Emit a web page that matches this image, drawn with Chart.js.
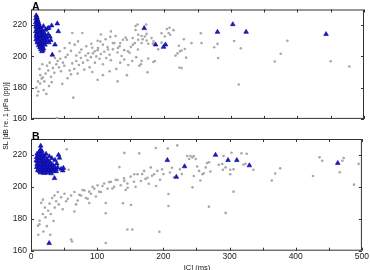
<!DOCTYPE html>
<html>
<head>
<meta charset="utf-8">
<script src="https://cdn.jsdelivr.net/npm/chart.js@4.4.1/dist/chart.umd.min.js"></script>
<style>
  body { margin: 0; background: #fff; width: 370px; height: 270px; overflow: hidden; position: relative;
         font-family: "Liberation Sans", Arial, sans-serif; }
  canvas { position: absolute; left: 0; }
  #cA { top: 0; }
  #cB { top: 128px; }
  .panel { position: absolute; font-weight: bold; font-size: 10.5px; line-height: 10px; color: #000; }
  #ylab { position: absolute; left: 5px; top: 116px; font-size: 7px; white-space: nowrap; color: #111;
          transform: translate(-50%, -50%) rotate(-90deg); }
  #xlab { position: absolute; left: 197px; top: 263px; font-size: 7.5px; color: #111; transform: translateX(-50%); }
</style>
</head>
<body>
<canvas id="cA" width="370" height="128"></canvas>
<canvas id="cB" width="370" height="142"></canvas>
<div class="panel" style="left:32px;top:1px">A</div>
<div class="panel" style="left:32px;top:131px">B</div>
<div id="ylab">SL [dB re. 1 μPa (pp)]</div>
<div id="xlab">ICI (ms)</div>
<script>
// axis ticks
const xTicks = [0, 50, 100, 150, 200, 250, 300, 350, 400, 450, 500];
const yTicks = [160, 180, 200, 220];

// panel A: [ICI ms, SL dB]
const grayA = [
  [9.6,175],[11,177.5],[8,180],[13.7,182.6],[10.5,184],[16,185.8],[12.7,192],[14,188],[18,186.5],[20,184],
  [22,189],[26,191],[24,194],[28,196],[17,195],[30,187],[33,192.5],[35,189.5],[38,195],[40,197],
  [36,199],[42,193],[45,190.5],[47,182.4],[44,198.5],[48,196],[50,194],[52,199.5],[27,181],[31,183.5],
  [19,178.5],[23,176],[39,160.5],[63.5,173.6],[55,186],[58,191],[60,188.5],[62,195.5],[65,192],[68,197],
  [70,189],[72,194.5],[75,199],[78,196],[80,191.5],[82,200.5],[85,197.5],[88,193],[90,199.5],[93,202],
  [96,196],[98,200],[100,204],[103,198.5],[105,201.5],[108,195],[110,203],[113,199],[115,206],[118,201],
  [120,197.5],[123,204.5],[125,208.5],[128,192],[130,202.5],[133,206.5],[136,200.2],[138,210.6],[140,204],[144,210.6],
  [148,202.3],[150,206],[43,203.3],[50.6,205.4],[58,208.5],[62,215],[65.6,207.5],[70.6,209.6],[75.6,204.4],[77,215],
  [83,206.5],[90.6,208.1],[95.6,203.3],[100.6,205.4],[108,207.5],[115.6,204.4],[123,208.5],[130.6,205.4],[145.6,203.3],[153,207.5],
  [160.6,204.4],[55,201],[60,203.5],[68,200.5],[73,202.5],[86,202],[92,205.5],[104,209.5],[112,211],[119,212.5],
  [127,213],[134,208.5],[142,212],[152.7,211.7],[156,208.5],[161,210.6],[166,208.5],[167.7,211],[171,212.7],[173.7,210.2],
  [176,208.1],[181,211.7],[183,208.1],[184,209.6],[161,213.8],[173.7,214.4],[157,219.4],[157,216.9],[160,220.4],[173,220.4],
  [166,213],[105,214],[120,216],[100,210],[134,196],[140,198],[146,194.5],[152,197],[158,199.5],[162.6,194],
  [165,195],[166,197.1],[175,189.8],[176,198.6],[183.6,196.4],[186,197],[144,188],[118,190.5],[108,188],[92,190],
  [100,185],[130,184],[191,204.6],[196,208.8],[217,200.5],[222,206.8],[229.5,211],[204,217.5],[208,218.3],[196,214.8],
  [209,213.8],[201,212.7],[214,216.8],[206.6,215],[224,203.3],[226,203.8],[220,201.9],[233,199.2],[223,192.9],[226,192.5],
  [231,204.7],[241,208.5],[255,214.8],[256,208.5],[275,205.8],[280,208],[281,199],[305,209.8],[315,205.2],[312,182],
  [366,196.7],[375,201.7],[385,210],[450,196.9],[478,193.5]
];
const triA = [
  [7.8,226.2],[8.9,225.1],[7.4,224.3],[9.6,223.6],[8.4,222.9],[10.7,222.4],[7.1,221.8],[9.3,221.2],[11.8,220.9],[8.1,220.3],
  [10.3,219.8],[13,219.5],[7.5,219],[9.7,218.6],[12.2,218.2],[14.2,217.9],[8.6,217.5],[11.1,217.1],[13.4,216.7],[15.7,216.4],
  [7.2,216],[10.2,215.7],[12.5,215.3],[14.7,215],[16.9,214.6],[8.2,214.3],[10.9,213.9],[13.6,213.6],[16,213.2],[18.3,212.9],
  [9.1,212.5],[11.9,212.2],[15,211.8],[17.3,211.5],[20.4,211.2],[7.6,210.8],[10.4,210.4],[13.1,210.1],[16.2,209.8],[19.1,209.5],
  [22.3,209.1],[9.5,208.8],[12.4,208.4],[15.3,208.1],[18.1,207.7],[21,207.4],[11.4,207],[14.2,206.6],[17,206.2],[13.3,205.7],
  [16,205.3],[18.8,204.9],[14.8,204.4],[17.6,203.9],[16.5,203.2],[8.7,218.9],[11,216.5],[8,213.1],[12.7,214.2],[13.9,211.3],
  [9.9,209.7],[16.6,217.3],[19.3,215.2],[21.1,213.7],[23.3,212.4],[21.7,216.9],[18.7,219.3],[24.4,210.6],[25.9,214.1],[27,208.9],
  [28.4,212.6],[24.8,217.8],[26.8,218.2],[29.7,210.4],[31,219.7],[39.5,221],[41,216],[36,207.5],[32,201],
  [170,218],[187,207.5],[199,206],[202,207.5],[280,215.6],[303,220.5],[323,215.6],[443,214.2]
];

// panel B
const grayB = [
  [10.5,175.6],[13,178.8],[12.7,176.5],[18.8,172],[11,170],[29,170],[24,175.4],[34,178.6],[21,187],[18,183],
  [18,192],[15.5,190],[22,181],[26,185],[28,189.5],[30,183],[32,193],[36,187],[38,191],[40.5,196.8],
  [35.5,194.6],[42,189],[45.5,193.5],[48,186],[50.6,195.7],[53,191],[55.6,192.5],[57,210.7],[54,223.6],[60.6,194.6],
  [60.6,167],[62,165.8],[65.6,196.8],[65.6,184.6],[68,189],[70.6,191.4],[73,195],[75.6,194.6],[78,198],[80.6,197.8],
  [83,193],[85.6,192.5],[88,189.9],[88,197],[90.6,195.7],[93,200],[95.6,198.9],[98,194],[100.6,201],[103,197],
  [105.6,196.8],[108,200.5],[110.6,202.1],[113,189.9],[113,183.5],[113,164.8],[115.6,198.9],[118,203],[120.6,203.2],[123,199],
  [125.6,200],[128,204.5],[130.6,204.3],[133.6,212.4],[135.6,201],[139,189.7],[140.6,205.3],[141,221.3],[141,203.7],[143,198],
  [145.6,202.1],[145.6,173.3],[146,199.4],[150.6,206.4],[151,188.6],[153,173.3],[155.6,203.2],[156,207.9],[158,200],[161,207.9],
  [163.5,221],[166,203.7],[168,208],[171,210],[173,205],[176,205.7],[178,202],[181,212.2],[183,207],[186,207.9],
  [188.7,224.4],[189,200.5],[191,210],[194,171.8],[195,204.5],[198,211],[200,208],[206.6,224],[207.7,195.5],[207.7,188],
  [210,209],[213,212],[216,206],[221,226],[225,211],[228,208],[236,219.3],[239,217.5],[241,219.3],[244,218.5],
  [244,199.7],[246,219.3],[246,206.8],[249,217.5],[251,212.8],[254,210],[256,204],[259,207.9],[261,208.5],[264,212.2],
  [266,215],[268.8,187.6],[269,215.4],[271,209.6],[283.8,213.9],[289,214.3],[290,210.7],[291,219.3],[294,212.2],[294,183.7],
  [301,207.9],[301,210.7],[303,221.4],[306,211],[306,197],[318,221],[321,213.9],[324,214.5],[326,220.8],[336,210.7],
  [363.8,204],[369,208.4],[376.5,211.6],[426,206.8],[436,218.5],[440,216.4],[466.5,209.2],[470.5,216.4],[472.5,218.1],[488,201.4],
  [495,214.4]
];
const triB = [
  [14.7,225.7],[14.2,223.4],[12.8,221.9],[16.5,222.4],[9.3,220.8],[11.6,220.1],[14.1,219.7],[17.2,220.5],[19.8,219.2],[8.4,218.6],
  [10.9,218.1],[13.5,217.6],[16.2,217.9],[18.7,217.2],[21.4,218.4],[24.1,217.1],[7.9,216.4],[10.2,215.9],[12.7,216.2],[15.3,215.6],
  [17.9,215.1],[20.6,215.8],[23.2,215.3],[25.8,216.1],[28.6,215.4],[9.1,214.2],[11.8,213.8],[14.4,214.5],[17,213.6],[19.5,214.1],
  [22.1,213.4],[24.7,213.9],[27.3,213.2],[30.2,214.3],[8.6,212.3],[11.2,211.9],[13.8,212.6],[16.4,211.7],[19,212.2],[21.6,211.5],
  [24.3,212],[26.9,211.4],[29.5,212.1],[32.4,211.6],[10.1,210.4],[12.9,209.9],[15.6,210.6],[18.2,209.7],[20.9,210.3],[23.5,209.6],
  [26.1,210.2],[28.8,209.5],[31.5,210.1],[34.3,209.8],[14.3,208.9],[19.6,208.6],[25.2,208.8],[30.7,208.4],[33.1,213.7],[35.8,212.4],
  [37.6,210.9],[36.2,216.8],[31.4,217.9],[27.6,219.1],[22.8,220.6],[38.9,214.6],[40.3,212.1],[41.6,220],[43,218.2],[45.5,211.2],
  [48,210.2],[49,211.8],[38,209.7],[35.5,205.4],[27.4,164.7],
  [206,216.7],[219.6,206.2],[232,212.8],[278.8,220],[297.7,216.7],[311,216.7],[330,213.4],[463.5,214.9]
];

const tickFont = { family: "'Liberation Sans', Arial, sans-serif", size: 8.5 };

// box + inward ticks, MATLAB style
const frame = {
  id: "frame",
  beforeDatasetsDraw(chart) {
    const { ctx, chartArea: a, scales } = chart;
    ctx.save();
    ctx.strokeStyle = "#333";
    ctx.lineWidth = 1;
    ctx.strokeRect(a.left + 0.5, a.top + 0.5, a.right - a.left - 1, a.bottom - a.top - 1);
    ctx.beginPath();
    xTicks.forEach(v => {
      const px = Math.round(scales.x.getPixelForValue(v)) + 0.5;
      ctx.moveTo(px, a.bottom); ctx.lineTo(px, a.bottom - 3);
      ctx.moveTo(px, a.top); ctx.lineTo(px, a.top + 3);
    });
    yTicks.forEach(v => {
      const py = Math.round(scales.y.getPixelForValue(v)) + 0.5;
      ctx.moveTo(a.left, py); ctx.lineTo(a.left + 3, py);
      ctx.moveTo(a.right, py); ctx.lineTo(a.right - 3, py);
    });
    ctx.stroke();
    ctx.restore();
  }
};

function makeChart(id, gray, tri, showX, padTop, xHeight) {
  return new Chart(document.getElementById(id), {
    type: "scatter",
    data: {
      datasets: [
        {
          data: tri.map(p => ({ x: p[0], y: p[1] })),
          pointStyle: "triangle",
          pointRadius: 2.7,
          backgroundColor: "#1818d8",
          borderColor: "#0a0a8a",
          borderWidth: 0.6,
          order: 0
        },
        {
          data: gray.map(p => ({ x: p[0], y: p[1] })),
          pointRadius: 1.3,
          backgroundColor: "#a8a8a8",
          borderWidth: 0,
          order: 1
        }
      ]
    },
    options: {
      responsive: false,
      animation: false,
      layout: { padding: { left: 0, right: 6, top: padTop, bottom: 0 } },
      plugins: { legend: { display: false }, tooltip: { enabled: false } },
      scales: {
        x: {
          type: "linear", min: 0, max: 500,
          afterBuildTicks: s => { s.ticks = xTicks.map(v => ({ value: v })); },
          afterFit: s => { s.height = xHeight; },
          ticks: {
            display: showX, autoSkip: false, maxRotation: 0, padding: 1,
            font: tickFont, color: "#222",
            callback: v => (v % 100 === 0 ? v : "")
          },
          grid: { display: false, drawTicks: false },
          border: { display: false }
        },
        y: {
          min: 160, max: 230,
          afterBuildTicks: s => { s.ticks = yTicks.map(v => ({ value: v })); },
          afterFit: s => { s.width = 31; },
          ticks: { padding: 4, font: tickFont, color: "#222" },
          grid: { display: false, drawTicks: false },
          border: { display: false }
        }
      }
    },
    plugins: [frame]
  });
}

makeChart("cA", grayA, triA, false, 9.5, 7);
makeChart("cB", grayB, triB, true, 11, 19.3);
</script>
</body>
</html>
